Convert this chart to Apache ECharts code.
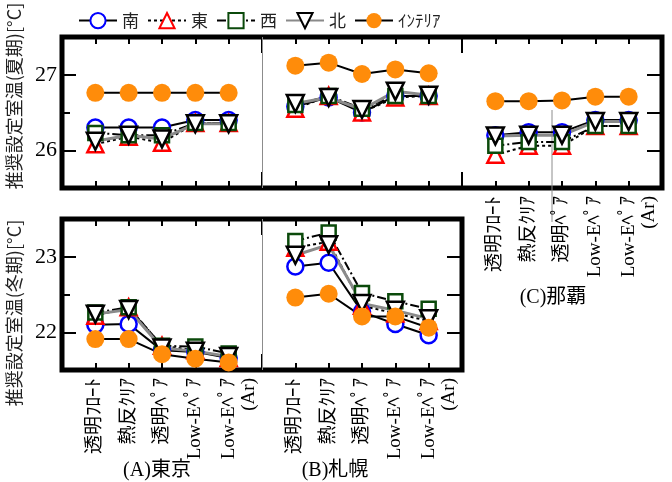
<!DOCTYPE html>
<html>
<head>
<meta charset="utf-8">
<script src="https://cdn.jsdelivr.net/npm/echarts@6/dist/echarts.min.js"></script>
<style>
html, body { margin: 0; padding: 0; background: #fff; }
#chart { width: 672px; height: 482px; }
</style>
</head>
<body>
<div id="chart"></div>
<script>
// Glass types on the horizontal axis of each city block
const glassTypes = ['透明ﾌﾛｰﾄ', '熱反ｸﾘｱ', '透明ﾍﾟｱ', 'Low-Eﾍﾟｱ', ' \nLow-Eﾍﾟｱ\n(Ar)'];
const seriesNames = ['南', '東', '西', '北', 'ｲﾝﾃﾘｱ'];
const cityTitles = ['(A)東京', '(B)札幌', '(C)那覇'];
const summerAxisName = '推奨設定室温(夏期)[°C]';
const winterAxisName = '推奨設定室温(冬期)[°C]';

// Summer recommended set temperature [°C]
const summerTokyoS  = [26.30, 26.30, 26.30, 26.40, 26.40];
const summerTokyoE  = [26.08, 26.18, 26.10, 26.36, 26.36];
const summerTokyoW  = [26.23, 26.20, 26.20, 26.36, 26.36];
const summerTokyoN  = [26.12, 26.20, 26.15, 26.35, 26.35];
const summerTokyoI  = [26.76, 26.76, 26.76, 26.76, 26.76];

const summerSapporoS = [26.58, 26.70, 26.50, 26.72, 26.72];
const summerSapporoE = [26.55, 26.72, 26.50, 26.70, 26.72];
const summerSapporoW = [26.60, 26.72, 26.55, 26.72, 26.72];
const summerSapporoN = [26.62, 26.70, 26.54, 26.78, 26.73];
const summerSapporoI = [27.12, 27.16, 27.01, 27.07, 27.02];

const summerNahaS = [26.20, 26.24, 26.24, 26.40, 26.40];
const summerNahaE = [25.94, 26.06, 26.06, 26.32, 26.32];
const summerNahaW = [26.06, 26.11, 26.11, 26.32, 26.32];
const summerNahaN = [26.19, 26.20, 26.20, 26.38, 26.38];
const summerNahaI = [26.65, 26.65, 26.66, 26.71, 26.71];

// Winter recommended set temperature [°C]
const winterTokyoS = [22.10, 22.11, 21.76, 21.74, 21.66];
const winterTokyoE = [22.22, 22.33, 21.82, 21.76, 21.66];
const winterTokyoW = [22.26, 22.33, 21.82, 21.81, 21.72];
const winterTokyoN = [22.24, 22.30, 21.79, 21.75, 21.68];
const winterTokyoI = [21.91, 21.91, 21.71, 21.65, 21.60];

const winterSapporoS = [22.87, 22.92, 22.27, 22.11, 21.96];
const winterSapporoE = [23.12, 23.20, 22.35, 22.25, 22.15];
const winterSapporoW = [23.21, 23.32, 22.52, 22.41, 22.31];
const winterSapporoN = [23.02, 23.16, 22.38, 22.29, 22.18];
const winterSapporoI = [22.46, 22.51, 22.21, 22.21, 22.06];

const summerTicks = [26, 27];
const summerHalfTicks = [26, 26.5, 27];
const winterTicks = [22, 23];
const winterHalfTicks = [22, 22.5, 23];

// Per-series look: marker shape and line style
const looks = [
  { symbol: 'circle',   size: 16, rotate: 0,   fill: '#fff',    border: '#0000ff', line: { color: '#000', width: 2, type: 'solid' } },
  { symbol: 'triangle', size: 16, rotate: 0,   fill: '#fff',    border: '#ff0000', line: { color: '#000', width: 2, type: [3, 3] } },
  { symbol: 'rect',     size: 14, rotate: 0,   fill: '#fff',    border: '#0b4a0b', line: { color: '#000', width: 2, type: [9, 3, 2, 3] } },
  { symbol: 'triangle', size: 17, rotate: 180, fill: '#fff',    border: '#000',    line: { color: '#8a8a8a', width: 3, type: 'solid' } },
  { symbol: 'circle',   size: 18, rotate: 0,   fill: '#ff8c0a', border: '#ff8c0a', line: { color: '#000', width: 2, type: 'solid' } }
];

const summerBlocks = [
  [summerTokyoS, summerTokyoE, summerTokyoW, summerTokyoN, summerTokyoI],
  [summerSapporoS, summerSapporoE, summerSapporoW, summerSapporoN, summerSapporoI],
  [summerNahaS, summerNahaE, summerNahaW, summerNahaN, summerNahaI]
];
const winterBlocks = [
  [winterTokyoS, winterTokyoE, winterTokyoW, winterTokyoN, winterTokyoI],
  [winterSapporoS, winterSapporoE, winterSapporoW, winterSapporoN, winterSapporoI]
];

// One gap slot before, between and after the city blocks
function joinBlocks(blocks, k) {
  const out = [null];
  blocks.forEach(b => { out.push(...b[k]); out.push(null); });
  return out;
}
function slotLabels(nBlocks, shown) {
  const out = [''];
  for (let b = 0; b < nBlocks; b++) {
    glassTypes.forEach(g => out.push(shown.includes(b) ? g : ''));
    out.push('');
  }
  return out;
}
const topLabels = slotLabels(3, [2]);
const bottomLabels = slotLabels(2, [0, 1]);
const topSlots = topLabels.map((_, i) => 's' + i);
const bottomSlots = bottomLabels.map((_, i) => 's' + i);

const serif = "'Liberation Serif', 'Noto Sans CJK JP', serif";
const tickFont = { fontFamily: serif, fontSize: 19, color: '#000', lineHeight: 20 };

function xAxes(gridIndex, slots, labels) {
  const dividers = [6, 12];
  const base = {
    type: 'category', gridIndex, data: slots, boundaryGap: false,
    axisLine: { show: false }, splitLine: { show: false }
  };
  return [
    Object.assign({}, base, {
      position: 'bottom',
      axisTick: { show: true, inside: true, length: 7, interval: 0, lineStyle: { color: '#000', width: 2 } },
      axisLabel: { show: true, interval: 0, rotate: 90, margin: 8, formatter: (v, i) => labels[i], ...tickFont }
    }),
    Object.assign({}, base, {
      position: 'top',
      axisTick: { show: true, inside: true, length: 7, interval: 0, lineStyle: { color: '#000', width: 2 } },
      axisLabel: { show: false }
    }),
    Object.assign({}, base, {
      position: 'bottom',
      axisTick: { show: true, inside: true, length: 16, interval: (i) => dividers.includes(i), lineStyle: { color: '#000', width: 2 } },
      axisLabel: { show: false }
    }),
    Object.assign({}, base, {
      position: 'top',
      axisTick: { show: true, inside: true, length: 16, interval: (i) => dividers.includes(i), lineStyle: { color: '#000', width: 2 } },
      axisLabel: { show: false }
    })
  ];
}

function yAxes(gridIndex, min, max, major, half) {
  const base = {
    type: 'value', gridIndex, min, max,
    axisLine: { show: false }, splitLine: { show: false }
  };
  return [
    Object.assign({}, base, {
      position: 'left',
      axisTick: { show: true, inside: true, length: 14, customValues: major, lineStyle: { color: '#000', width: 2 } },
      axisLabel: { show: true, customValues: major, margin: 5, fontFamily: serif, fontSize: 22, color: '#000' }
    }),
    Object.assign({}, base, {
      position: 'left',
      axisTick: { show: true, inside: true, length: 8, customValues: half, lineStyle: { color: '#000', width: 2 } },
      axisLabel: { show: false }
    }),
    Object.assign({}, base, {
      position: 'right',
      axisTick: { show: true, inside: true, length: 15, customValues: half, lineStyle: { color: '#000', width: 2 } },
      axisLabel: { show: false }
    })
  ];
}

const series = [];
function addSeries(blocks, xIndex, yIndex) {
  seriesNames.forEach((name, k) => {
    const L = looks[k];
    const s = {
      type: 'line', name, xAxisIndex: xIndex, yAxisIndex: yIndex,
      data: joinBlocks(blocks, k),
      symbol: L.symbol, symbolSize: L.size, symbolRotate: L.rotate,
      showAllSymbol: true, connectNulls: false, animation: false,
      lineStyle: L.line,
      itemStyle: { color: L.fill, borderColor: L.border, borderWidth: k === 4 ? 0 : 2.5 },
      emphasis: { disabled: true }
    };
    if (k === 0) {
      s.markLine = {
        silent: true, symbol: 'none', animation: false, label: { show: false },
        lineStyle: { color: '#8c8c8c', width: 1, type: 'solid' },
        data: [{ xAxis: 's6' }]
      };
    }
    series.push(s);
  });
}
addSeries(summerBlocks, 0, 0);
addSeries(winterBlocks, 4, 3);

const sansJP = "'Noto Sans CJK JP', sans-serif";

const option = {
  backgroundColor: '#fff',
  animation: false,
  legend: {
    data: seriesNames,
    left: 73, top: 7,
    itemWidth: 38, itemHeight: 19, itemGap: 8,
    textStyle: { fontFamily: sansJP, fontSize: 17, color: '#222' }
  },
  grid: [
    { left: 62, top: 37, width: 600, height: 151, show: true, borderColor: '#000', borderWidth: 5, backgroundColor: 'transparent' },
    { left: 62, top: 219, width: 400, height: 151, show: true, borderColor: '#000', borderWidth: 5, backgroundColor: 'transparent' }
  ],
  xAxis: [...xAxes(0, topSlots, topLabels), ...xAxes(1, bottomSlots, bottomLabels)],
  yAxis: [...yAxes(0, 25.5, 27.5, summerTicks, summerHalfTicks), ...yAxes(1, 21.5, 23.5, winterTicks, winterHalfTicks)],
  series,
  graphic: [
    { type: 'text', x: 14, y: 96, rotation: Math.PI / 2, style: { text: summerAxisName, fontFamily: sansJP, fontSize: 18, fill: '#222', align: 'center', verticalAlign: 'middle' } },
    { type: 'text', x: 14, y: 313, rotation: Math.PI / 2, style: { text: winterAxisName, fontFamily: sansJP, fontSize: 18, fill: '#222', align: 'center', verticalAlign: 'middle' } },
    { type: 'text', x: 157, y: 471, style: { text: cityTitles[0], fontFamily: serif, fontSize: 20, fill: '#000', align: 'center', verticalAlign: 'middle' } },
    { type: 'text', x: 335, y: 471, style: { text: cityTitles[1], fontFamily: serif, fontSize: 20, fill: '#000', align: 'center', verticalAlign: 'middle' } },
    { type: 'text', x: 553, y: 298, style: { text: cityTitles[2], fontFamily: serif, fontSize: 20, fill: '#000', align: 'center', verticalAlign: 'middle' } },
    { type: 'line', shape: { x1: 552, y1: 110, x2: 552, y2: 222 }, style: { stroke: '#8c8c8c', lineWidth: 1 }, silent: true }
  ]
};

const chart = echarts.init(document.getElementById('chart'), null, { renderer: 'canvas' });
chart.setOption(option);
</script>
</body>
</html>
